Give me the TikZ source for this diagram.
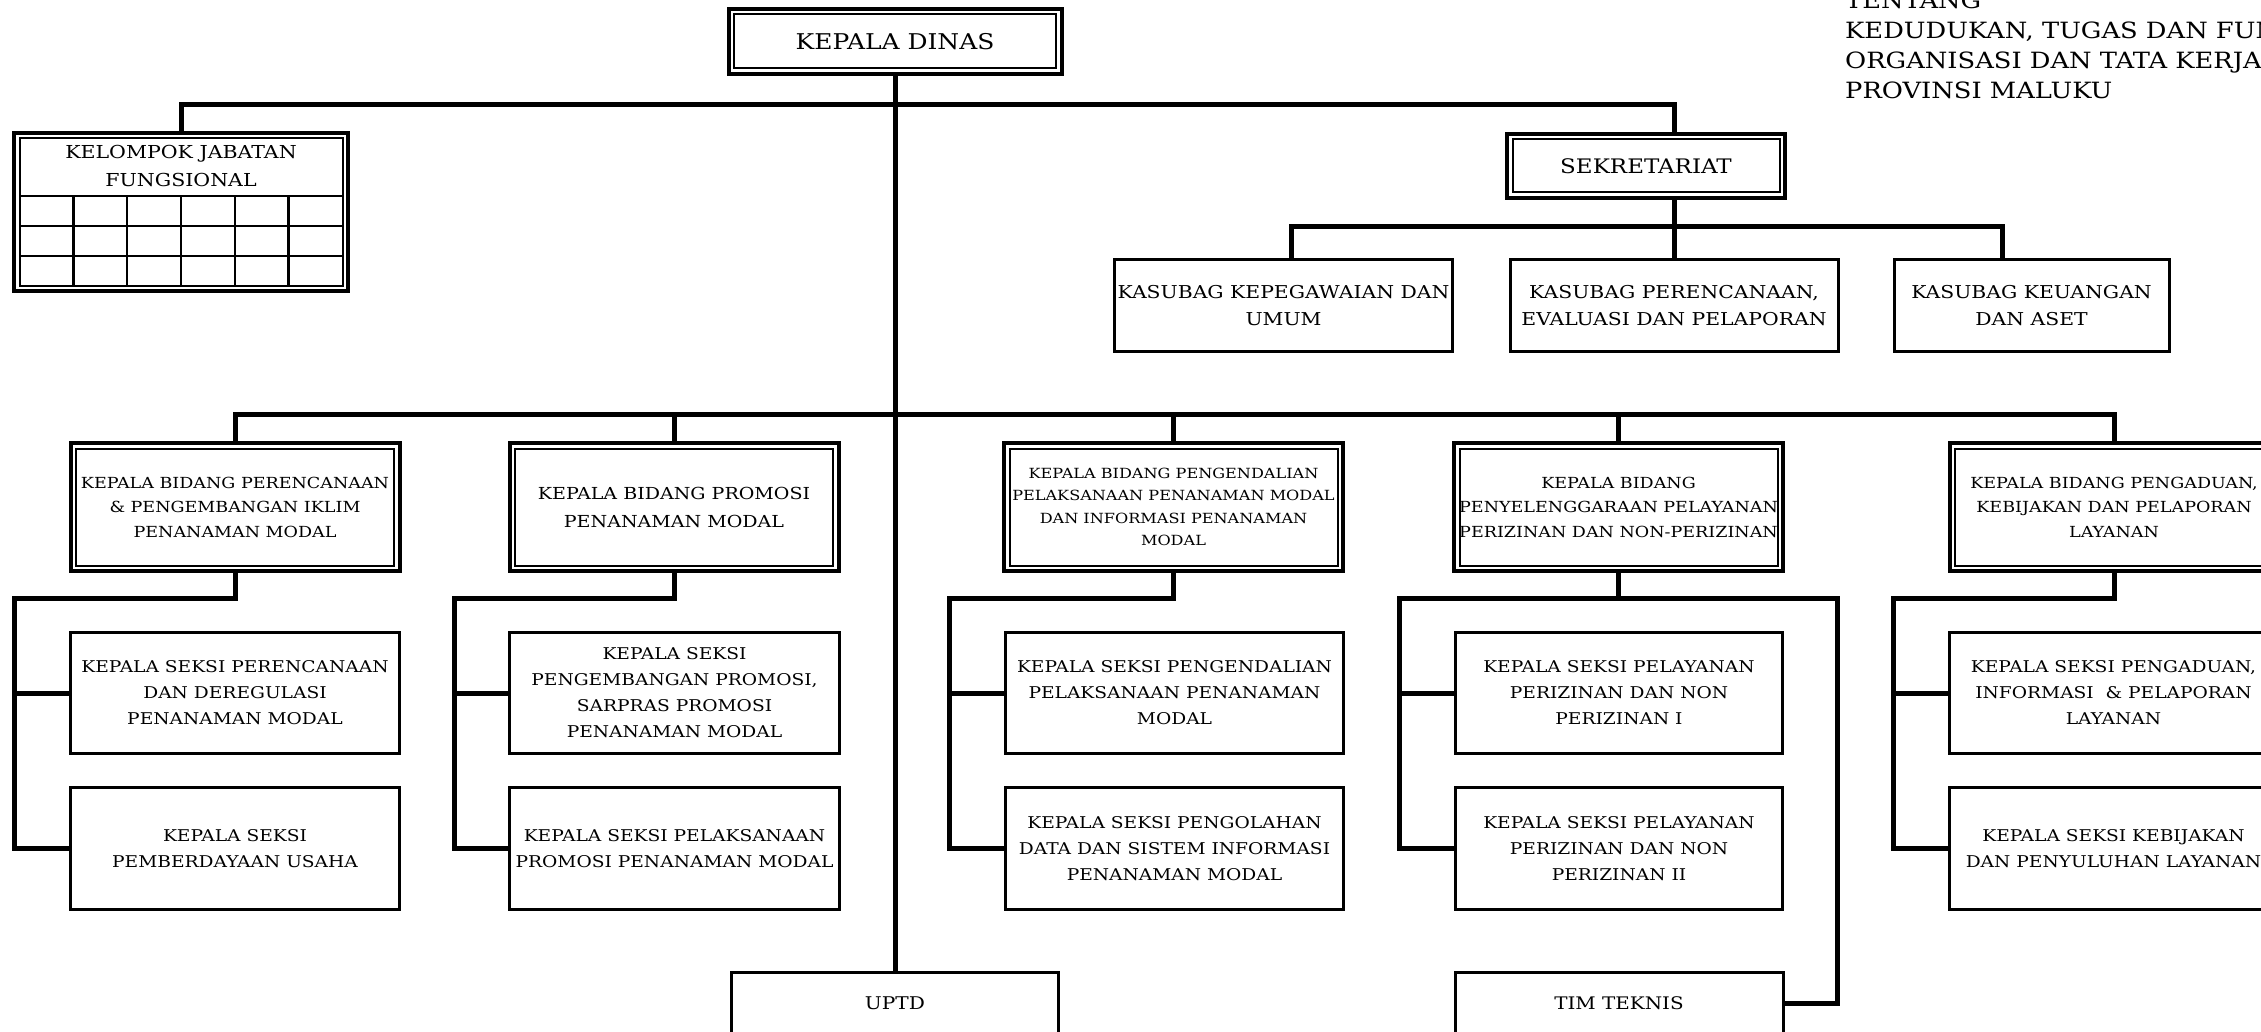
\documentclass[tikz,border=0pt]{standalone}
\usepackage{fontspec}
\setmainfont{DejaVu Serif}[FakeStretch=1.15]
\begin{document}
\begin{tikzpicture}[x=1pt,y=-1pt,
  sbox/.style={draw, line width=3pt, align=center, inner sep=0pt, outer sep=0pt},
  dbox/.style={draw, line width=4pt, align=center, inner sep=0pt, outer sep=0pt},
  link/.style={line width=5pt, line join=miter},
  fs/.style 2 args={font={\fontsize{#1}{#2}\selectfont}},
  kasfont/.style={fs={17.7}{27}},
  bidfont/.style={fs={15.25}{24.5}},
  sekfont/.style={fs={16.2}{26}},
]
\useasboundingbox (0,0) rectangle (2261,1032);

% header text at the top right
\node[anchor=south west, align=left, inner sep=0pt, fs={22.4}{30}] (hdr) at (1845,99)
  {TENTANG\\KEDUDUKAN, TUGAS DAN FUN\\ORGANISASI DAN TATA KERJA\\PROVINSI MALUKU};

% top level
\node[dbox, minimum width=333pt, minimum height=65pt, fs={21.7}{26}] (kd) at (895,41.5) {KEPALA DINAS};
\node[dbox, minimum width=334pt, minimum height=158pt] (kjf) at (181,212) {};
\node[fs={17.85}{28}, align=center, inner sep=0pt] (kjft) at (181,166) {KELOMPOK JABATAN\\FUNGSIONAL};
\node[dbox, minimum width=278pt, minimum height=64pt, fs={20}{26}] (sek) at (1646,166) {SEKRETARIAT};

% sub-sections of the secretariat
\node[sbox, kasfont, minimum width=338pt, minimum height=92pt] (ks1) at (1283.5,305.5) {KASUBAG KEPEGAWAIAN DAN\\UMUM};
\node[sbox, kasfont, minimum width=328pt, minimum height=92pt] (ks2) at (1674,305.5) {KASUBAG PERENCANAAN,\\EVALUASI DAN PELAPORAN};
\node[sbox, kasfont, minimum width=275pt, minimum height=92pt] (ks3) at (2031.5,305.5) {KASUBAG KEUANGAN\\DAN ASET};

% divisions
\node[dbox, bidfont, minimum width=329pt, minimum height=128pt] (b1) at (235,507) {KEPALA BIDANG PERENCANAAN\\\& PENGEMBANGAN IKLIM\\PENANAMAN MODAL};
\node[dbox, fs={16.55}{28}, minimum width=329pt, minimum height=128pt] (b2) at (674,507) {KEPALA BIDANG PROMOSI\\PENANAMAN MODAL};
\node[dbox, fs={14}{22.5}, minimum width=339pt, minimum height=128pt] (b3) at (1173.5,507) {KEPALA BIDANG PENGENDALIAN\\PELAKSANAAN PENANAMAN MODAL\\DAN INFORMASI PENANAMAN\\MODAL};
\node[dbox, bidfont, minimum width=329pt, minimum height=128pt] (b4) at (1618.5,507) {KEPALA BIDANG\\PENYELENGGARAAN PELAYANAN\\PERIZINAN DAN NON-PERIZINAN};
\node[dbox, bidfont, minimum width=329pt, minimum height=128pt] (b5) at (2114,507) {KEPALA BIDANG PENGADUAN,\\KEBIJAKAN DAN PELAPORAN\\LAYANAN};

% sections
\node[sbox, sekfont, minimum width=329pt, minimum height=121pt] (g1a) at (235,693) {KEPALA SEKSI PERENCANAAN\\DAN DEREGULASI\\PENANAMAN MODAL};
\node[sbox, sekfont, minimum width=329pt, minimum height=122pt] (g1b) at (235,848.5) {KEPALA SEKSI\\PEMBERDAYAAN USAHA};
\node[sbox, sekfont, minimum width=330pt, minimum height=121pt] (g2a) at (674.5,693) {KEPALA SEKSI\\PENGEMBANGAN PROMOSI,\\SARPRAS PROMOSI\\PENANAMAN MODAL};
\node[sbox, sekfont, minimum width=330pt, minimum height=122pt] (g2b) at (674.5,848.5) {KEPALA SEKSI PELAKSANAAN\\PROMOSI PENANAMAN MODAL};
\node[sbox, sekfont, minimum width=338pt, minimum height=121pt] (g3a) at (1174.5,693) {KEPALA SEKSI PENGENDALIAN\\PELAKSANAAN PENANAMAN\\MODAL};
\node[sbox, sekfont, minimum width=338pt, minimum height=122pt] (g3b) at (1174.5,848.5) {KEPALA SEKSI PENGOLAHAN\\DATA DAN SISTEM INFORMASI\\PENANAMAN MODAL};
\node[sbox, sekfont, minimum width=327pt, minimum height=121pt] (g4a) at (1619,693) {KEPALA SEKSI PELAYANAN\\PERIZINAN DAN NON\\PERIZINAN I};
\node[sbox, sekfont, minimum width=327pt, minimum height=122pt] (g4b) at (1619,848.5) {KEPALA SEKSI PELAYANAN\\PERIZINAN DAN NON\\PERIZINAN II};
\node[sbox, sekfont, minimum width=329pt, minimum height=121pt] (g5a) at (2113.5,693) {KEPALA SEKSI PENGADUAN,\\INFORMASI \ \& PELAPORAN\\LAYANAN};
\node[sbox, sekfont, minimum width=329pt, minimum height=122pt] (g5b) at (2113.5,848.5) {KEPALA SEKSI KEBIJAKAN\\DAN PENYULUHAN LAYANAN};

% bottom units
\node[sbox, fs={17.5}{26}, minimum width=327pt, minimum height=62pt, anchor=north] (uptd) at (895,972) {UPTD};
\node[sbox, fs={17.3}{26}, minimum width=328pt, minimum height=62pt, anchor=north] (tim) at (1619,972) {TIM TEKNIS};

% inner lines of the double-framed boxes
\foreach \n in {kd,kjf,sek,b1,b2,b3,b4,b5}
  \draw[line width=2pt] ([xshift=5.5pt,yshift=-5.5pt]\n.north west) rectangle ([xshift=-5.5pt,yshift=5.5pt]\n.south east);

% grid of the functional group box
\foreach \yy in {196,226,256}
  \draw[line width=2.5pt] (19.5,\yy) -- (342.5,\yy);
\foreach \xx in {73.3,127.2,181,234.8,288.7}
  \draw[line width=2.5pt] (\xx,196) -- (\xx,285.5);

% connectors
\coordinate (tr) at (1674,105);
\coordinate (kh1) at (1291,227);
\coordinate (kh3) at (2002,227);
\coordinate (bh) at (895,414);
\coordinate (l1) at (14,598);
\coordinate (l2) at (454,598);
\coordinate (l3) at (949,598);
\coordinate (l4) at (1399,598);
\coordinate (l4r) at (1837,598);
\coordinate (l5) at (1893,598);

\draw[link] (kd.south) -- (uptd.north);
\draw[link] (kjf.north) |- (tr) -- (sek.north -| tr);
\draw[link] (sek.south -| tr) -- (ks2.north);
\draw[link] (kh1 |- ks1.north) -- (kh1) -- (kh3) -- (kh3 |- ks3.north);

\draw[link] (b1.north) |- (bh) -| (b5.north);
\foreach \b in {b2,b3,b4}
  \draw[link] (\b.north) -- (\b.north |- bh);

\draw[link] (b1.south) |- (l1) |- (g1b.west) (l1 |- g1a.west) -- (g1a.west);
\draw[link] (b2.south) |- (l2) |- (g2b.west) (l2 |- g2a.west) -- (g2a.west);
\draw[link] (b3.south) |- (l3) |- (g3b.west) (l3 |- g3a.west) -- (g3a.west);
\draw[link] (g4b.west) -| (l4) -- (l4r) |- (tim.east);
\draw[link] (b4.south) -- (b4.south |- l4);
\draw[link] (l4 |- g4a.west) -- (g4a.west);
\draw[link] (b5.south) |- (l5) |- (g5b.west) (l5 |- g5a.west) -- (g5a.west);
\end{tikzpicture}
\end{document}
